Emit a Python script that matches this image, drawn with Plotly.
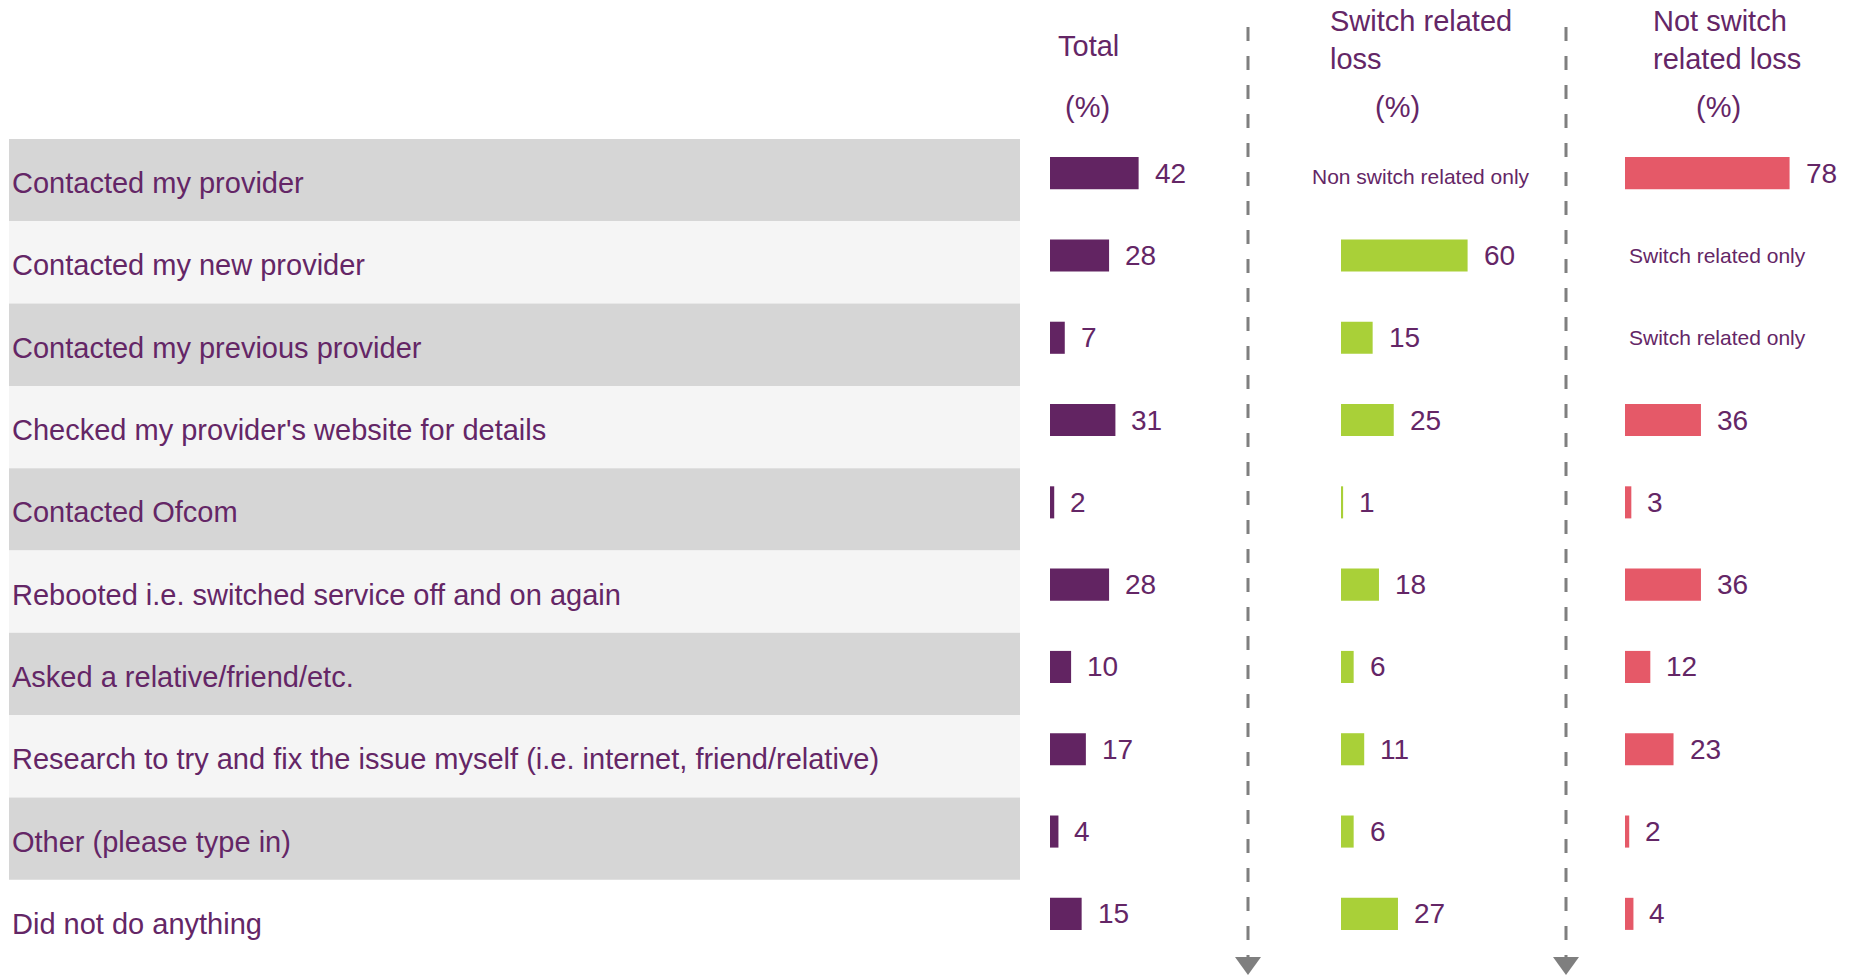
import plotly.graph_objects as go

categories = [
    "Contacted my provider",
    "Contacted my new provider",
    "Contacted my previous provider",
    "Checked my provider's website for details",
    "Contacted Ofcom",
    "Rebooted i.e. switched service off and on again",
    "Asked a relative/friend/etc.",
    "Research to try and fix the issue myself (i.e. internet, friend/relative)",
    "Other (please type in)",
    "Did not do anything",
]
total = [42, 28, 7, 31, 2, 28, 10, 17, 4, 15]
switch_related = [None, 60, 15, 25, 1, 18, 6, 11, 6, 27]
not_switch_related = [78, None, None, 36, 3, 36, 12, 23, 2, 4]

series_names = ["Total", "Switch related loss", "Not switch related loss"]
headers = ["Total", "Switch related<br>loss", "Not switch<br>related loss"]
missing_notes = {1: "Non switch related only", 2: "Switch related only"}

W, H = 1852, 976
FONT = "Liberation Sans, Arial, sans-serif"
PURPLE = "#622462"
TEXT = "#642666"
GREEN = "#A9D038"
PINK = "#E55968"
GRAY = "#7F7F7F"

def px(x):
    return x / W

def py(y):
    return 1 - y / H

fig = go.Figure()

series = [total, switch_related, not_switch_related]
colors = [PURPLE, GREEN, PINK]
axes = ["x", "x2", "x3"]
starts = [1050, 1341, 1625]
scale = 2.11  # px per percentage point
xr = 100

for s, (vals, col, ax, name) in enumerate(zip(series, colors, axes, series_names)):
    fig.add_trace(go.Bar(
        y=categories, x=vals, orientation="h", name=name,
        marker=dict(color=col, line=dict(width=0)),
        width=0.39, offset=-0.28,
        xaxis=ax, yaxis="y", showlegend=False, hoverinfo="x+y",
    ))

layout = dict(
    width=W, height=H,
    margin=dict(l=0, r=0, t=0, b=0),
    paper_bgcolor="white", plot_bgcolor="rgba(0,0,0,0)",
    font=dict(family=FONT, color=TEXT),
    yaxis=dict(type="category", categoryorder="array", categoryarray=categories,
               range=[9.5, -0.5], domain=[py(962), py(139)], visible=False),
)
for i, (ax, st) in enumerate(zip(axes, starts)):
    key = "xaxis" if i == 0 else f"xaxis{i+1}"
    d = dict(range=[0, xr], domain=[px(st), px(st + xr * scale)], visible=False,
             showgrid=False, zeroline=False)
    if i > 0:
        d["anchor"] = "y"
    layout[key] = d
fig.update_layout(**layout)

shapes = []
# row bands
for i, c in enumerate(categories):
    if i == len(categories) - 1:
        continue
    fill = "#D6D6D6" if i % 2 == 0 else "#F5F5F5"
    shapes.append(dict(type="rect", xref="paper", yref="y", x0=px(9), x1=px(1020),
                       y0=i - 0.5, y1=i + 0.5, fillcolor=fill, line=dict(width=0),
                       layer="below"))
# dashed separators with arrowheads
for xs in [1248, 1566]:
    shapes.append(dict(type="line", xref="paper", yref="paper", x0=px(xs), x1=px(xs),
                       y0=py(27), y1=py(958), line=dict(color=GRAY, width=3, dash="14px,15px")))
    shapes.append(dict(type="path", xref="paper", yref="paper",
                       path=f"M {px(xs-13)},{py(957)} L {px(xs+13)},{py(957)} L {px(xs)},{py(975)} Z",
                       fillcolor=GRAY, line=dict(width=0)))
fig.update_layout(shapes=shapes)

ann = []
# category labels
for c in categories:
    ann.append(dict(text=c, xref="paper", yref="y", x=px(10), y=c, xanchor="left",
                    yanchor="middle", yshift=-3, showarrow=False, font=dict(size=29, color=TEXT)))
# value labels
for vals, ax in zip(series, axes):
    for c, v in zip(categories, vals):
        if v is None:
            continue
        ann.append(dict(text=str(v), xref=ax, yref="y", x=v, y=c, xanchor="left",
                        yanchor="middle", xshift=14, yshift=7, showarrow=False,
                        font=dict(size=28, color=TEXT)))
# missing-value notes
for c, v in zip(categories, switch_related):
    if v is None:
        ann.append(dict(text=missing_notes[1], xref="paper", yref="y", x=px(1421), y=c,
                        xanchor="center", yanchor="middle", yshift=4, showarrow=False,
                        font=dict(size=21, color=TEXT)))
for c, v in zip(categories, not_switch_related):
    if v is None:
        ann.append(dict(text=missing_notes[2], xref="paper", yref="y", x=px(1717), y=c,
                        xanchor="center", yanchor="middle", yshift=7, showarrow=False,
                        font=dict(size=21, color=TEXT)))
# headers
ann.append(dict(text=headers[0], xref="paper", yref="paper", x=px(1056), y=py(46),
                xanchor="left", yanchor="middle", showarrow=False, font=dict(size=29, color=TEXT)))
ann.append(dict(text=headers[1], xref="paper", yref="paper", x=px(1328), y=py(40),
                xanchor="left", yanchor="middle", align="left", showarrow=False,
                font=dict(size=29, color=TEXT)))
ann.append(dict(text=headers[2], xref="paper", yref="paper", x=px(1651), y=py(40),
                xanchor="left", yanchor="middle", align="left", showarrow=False,
                font=dict(size=29, color=TEXT)))
for xc in [1087, 1397, 1718]:
    ann.append(dict(text="(%)", xref="paper", yref="paper", x=px(xc), y=py(107),
                    xanchor="center", yanchor="middle", showarrow=False,
                    font=dict(size=29, color=TEXT)))
fig.update_layout(annotations=ann)

fig.write_html("out.html",
               config={"displayModeBar": False},
               post_script="document.body.style.margin='0px';document.body.style.overflow='hidden';")
